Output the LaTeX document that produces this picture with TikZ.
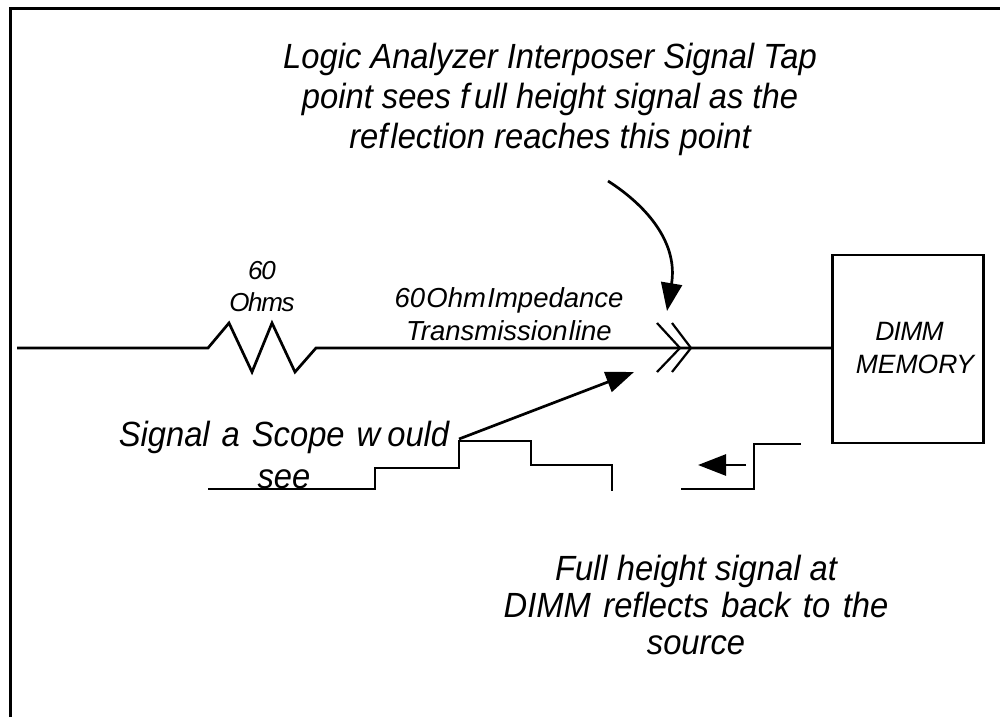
\documentclass[tikz,border=0pt]{standalone}
\usepackage{fontspec}
\setmainfont{Liberation Sans}
\usetikzlibrary{arrows.meta}
\tikzset{
  wire/.style={draw=black,line width=2.7pt,line join=miter},
  thin wire/.style={draw=black,line width=2.2pt,line join=miter},
  frame wire/.style={draw=black,line width=3pt},
  pointer/.style={wire,-{Triangle[length=28pt,width=21pt]}},
  big label/.style={align=center,font=\fontsize{35}{40}\selectfont\itshape\addfontfeature{FakeStretch=0.935},inner sep=0pt},
  small label/.style={align=center,font=\fontsize{26}{32}\selectfont\itshape\addfontfeature{LetterSpace=-5},inner sep=0pt},
  mid label/.style={align=center,font=\fontsize{27.5}{33}\selectfont\itshape,inner sep=0pt},
  box label/.style={align=center,font=\fontsize{26.5}{33}\selectfont\itshape,inner sep=0pt},
}
\begin{document}
\begin{tikzpicture}[x=1pt,y=-1pt]
\useasboundingbox (0,0) rectangle (1000,717);
\draw[frame wire] (10.5,717) -- (10.5,8.5) -- (1000,8.5);
\node[big label] (tap) at (550,99) {Logic Analyzer Interposer Signal Tap\\point sees f\kern5pt ull height signal as the\\ref\kern3pt lection reaches this point};
\node[small label] (ohms) at (262,287) {60\\Ohms};
\node[mid label] (tline) at (509,314) {{\spaceskip=0.05em 60 Ohm Impedance}\\{\spaceskip=0.05em Transmission line}};
\node[draw=black,line width=2.7pt,minimum width=151pt,minimum height=188pt,inner sep=0pt] (dimm) at (908,349) {};
\node[box label] (dimmtext) at (915,348) {{\addfontfeature{LetterSpace=-3}DIMM}\kern11pt\\MEMORY};
\coordinate (src) at (17,348);
\draw[wire] (src) -- (208,348) -- (229,323) -- (252,372) -- (272,323) -- (295,372) -- (316,348) -- (dimm.west |- src);
\draw[thin wire] (657,323) -- (680,348) -- (657,372);
\draw[thin wire] (672,323) -- (691,348) -- (672,372);
\coordinate (t1) at (608,181);
\coordinate (t2) at (667,311);
\draw[pointer] (t1) .. controls (650,208) and (678,245) .. (t2);
\node[big label,font=\fontsize{35}{42}\selectfont\itshape\addfontfeature{FakeStretch=0.935}] (scope) at (284,455) {{\spaceskip=12pt Signal a Scope w\kern7pt ould}\\see};
\coordinate (s0) at (208,489);
\coordinate (s1) at (612,491);
\draw[thin wire] (s0) -- (375,489) -- (375,468) -- (459,468) -- (459,441) -- (531,441) -- (531,465) -- (612,465) -- (s1);
\coordinate (p0) at (459,439);
\coordinate (p1) at (634,372);
\draw[pointer] (p0) -- (p1);
\coordinate (r0) at (681,489);
\coordinate (r1) at (801,444);
\draw[thin wire] (r0) -- (754,489) -- (754,444) -- (r1);
\coordinate (a0) at (746,465);
\coordinate (a1) at (698,465);
\draw[pointer] (a0) -- (a1);
\node[big label,font=\fontsize{35}{37}\selectfont\itshape\addfontfeature{FakeStretch=0.935}] (full) at (696,605) {Full height signal at\\{\spaceskip=12.5pt DIMM reflects back to the}\\source};
\end{tikzpicture}
\end{document}
